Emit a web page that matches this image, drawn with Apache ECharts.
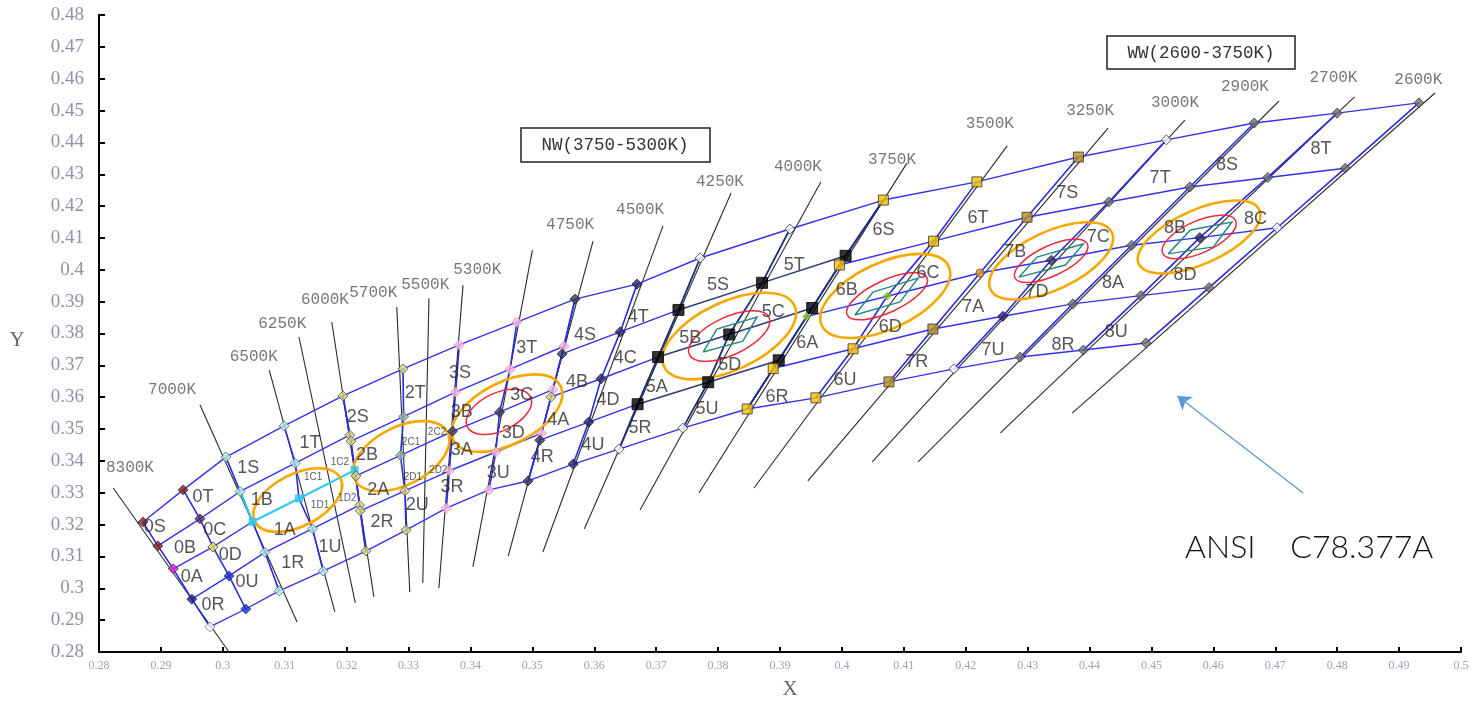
<!DOCTYPE html>
<html><head><meta charset="utf-8">
<script src="https://cdn.jsdelivr.net/npm/echarts@6/dist/echarts.min.js"></script>
<style>html,body{margin:0;padding:0;background:#fff}#c{width:1483px;height:709px}</style>
</head><body><div id="c"></div>
<script>
// ---- vertex columns (x, y chromaticity), rows: top, S/T-B/C, centre, A/D-R/U, bottom
const col0  = [[0.2871,0.3208],[0.2895,0.3133],[0.2920,0.3061],[0.2950,0.2966],[0.2979,0.2879]];
const col0m = [[0.2936,0.3309],[0.2963,0.3218],[0.2984,0.3130],[0.3010,0.3039],[0.3037,0.2935]];
const col1  = [[0.3005,0.3412],[0.3028,0.3304],[0.3048,0.3209],[0.3068,0.3113],[0.3091,0.2992]];
const col1m = [[0.3099,0.3510],[0.3117,0.3393],[0.3123,0.3282],[0.3145,0.3187],[0.3162,0.3054]];
const col2a = [[0.3194,0.3604],[0.3205,0.3481],[0.3213,0.3371],[0.3221,0.3261],[0.3231,0.3117]];
const col2b = [[0.3194,0.3604],[0.3207,0.3462],[0.3215,0.3353],[0.3222,0.3243],[0.3231,0.3117]];
const col2m = [[0.3291,0.3689],[0.3292,0.3539],[0.3287,0.3417],[0.3294,0.3306],[0.3296,0.3183]];
const col3  = [[0.3382,0.3764],[0.3376,0.3616],[0.3371,0.3493],[0.3366,0.3369],[0.3361,0.3252]];
const col3m = [[0.3475,0.3836],[0.3464,0.3688],[0.3447,0.3553],[0.3441,0.3428],[0.3430,0.3309]];
const col4a = [[0.3569,0.3908],[0.3551,0.3760],[0.3533,0.3624],[0.3515,0.3487],[0.3493,0.3337]];
const col4b = [[0.3569,0.3908],[0.3548,0.3736],[0.3530,0.3601],[0.3512,0.3465],[0.3493,0.3337]];
const col4m = [[0.3669,0.3955],[0.3642,0.3805],[0.3611,0.3658],[0.3591,0.3522],[0.3566,0.3390]];
const col5  = [[0.3771,0.4037],[0.3736,0.3874],[0.3703,0.3726],[0.3670,0.3578],[0.3640,0.3437]];
const col5m = [[0.3916,0.4128],[0.3871,0.3959],[0.3818,0.3797],[0.3784,0.3647],[0.3743,0.3503]];
const col6a = [[0.4067,0.4219],[0.4006,0.4044],[0.3952,0.3880],[0.3898,0.3716],[0.3847,0.3563]];
const col6b = [[0.4067,0.4219],[0.3996,0.4015],[0.3943,0.3853],[0.3889,0.3690],[0.3847,0.3563]];
const col6m = [[0.4218,0.4276],[0.4148,0.4090],[0.4073,0.3917],[0.4018,0.3752],[0.3958,0.3598]];
const col7  = [[0.4382,0.4354],[0.4299,0.4165],[0.4223,0.3990],[0.4147,0.3814],[0.4076,0.3648]];
const col7m = [[0.4524,0.4408],[0.4431,0.4213],[0.4338,0.4030],[0.4260,0.3854],[0.4181,0.3689]];
const col8  = [[0.4666,0.4461],[0.4562,0.4260],[0.4468,0.4077],[0.4373,0.3893],[0.4288,0.3726]];
const col8m = [[0.4800,0.4492],[0.4688,0.4290],[0.4578,0.4101],[0.4483,0.3919],[0.4390,0.3748]];
const col9  = [[0.4932,0.4524],[0.4813,0.4319],[0.4703,0.4132],[0.4593,0.3944],[0.4491,0.3770]];

// ---- isotherm lines (start, end)
const isothermLines = [
 [[0.2823,0.3315],[0.3010,0.2800]], [[0.2963,0.3576],[0.3120,0.2894]],
 [[0.3075,0.3685],[0.3181,0.2926]], [[0.3123,0.3789],[0.3214,0.2954]],
 [[0.3176,0.3836],[0.3244,0.2973]], [[0.3281,0.3883],[0.3302,0.2988]],
 [[0.3333,0.3911],[0.3323,0.3017]], [[0.3388,0.3952],[0.3349,0.3001]],
 [[0.3500,0.4062],[0.3404,0.3067]], [[0.3598,0.4090],[0.3461,0.3101]],
 [[0.3711,0.4138],[0.3517,0.3114]], [[0.3821,0.4241],[0.3584,0.3186]],
 [[0.3966,0.4276],[0.3674,0.3246]], [[0.4105,0.4335],[0.3769,0.3299]],
 [[0.4267,0.4389],[0.3858,0.3315]], [[0.4430,0.4445],[0.3945,0.3337]],
 [[0.4554,0.4470],[0.4049,0.3397]], [[0.4706,0.4530],[0.4123,0.3397]],
 [[0.4828,0.4543],[0.4256,0.3488]], [[0.4958,0.4555],[0.4372,0.3550]]
];
const cctLabels = [
 ['8300K',0.2850,0.3378],['7000K',0.2918,0.3623],['6500K',0.3050,0.3726],['6250K',0.3096,0.3830],
 ['6000K',0.3165,0.3905],['5700K',0.3243,0.3927],['5500K',0.3327,0.3952],['5300K',0.3411,0.3999],
 ['4750K',0.3561,0.4141],['4500K',0.3674,0.4188],['4250K',0.3803,0.4276],['4000K',0.3929,0.4323],
 ['3750K',0.4081,0.4345],['3500K',0.4239,0.4458],['3250K',0.4401,0.4499],['3000K',0.4538,0.4524],
 ['2900K',0.4651,0.4574],['2700K',0.4794,0.4602],['2600K',0.4931,0.4596]
];
const binLabels = [
 ['0S',0.2890,0.3193],['0T',0.2968,0.3287],['0C',0.2987,0.3183],['0B',0.2939,0.3127],['0D',0.3012,0.3105],['0A',0.2950,0.3036],['0U',0.3039,0.3020],['0R',0.2984,0.2948],
 ['1S',0.3041,0.3378],['1B',0.3063,0.3277],['1A',0.3100,0.3183],['1R',0.3113,0.3079],['1T',0.3141,0.3456],['1U',0.3173,0.3130],
 ['2S',0.3218,0.3538],['2B',0.3233,0.3419],['2A',0.3251,0.3309],['2R',0.3257,0.3208],['2T',0.3311,0.3613],['2U',0.3314,0.3262],
 ['3S',0.3383,0.3676],['3B',0.3386,0.3554],['3A',0.3386,0.3434],['3R',0.3370,0.3318],['3T',0.3491,0.3755],['3C',0.3483,0.3607],['3D',0.3469,0.3488],['3U',0.3445,0.3362],
 ['4S',0.3585,0.3795],['4B',0.3572,0.3648],['4A',0.3542,0.3528],['4R',0.3516,0.3412],['4T',0.3671,0.3852],['4C',0.3650,0.3723],['4D',0.3622,0.3591],['4U',0.3598,0.3450],
 ['5S',0.3800,0.3952],['5B',0.3755,0.3786],['5A',0.3701,0.3632],['5R',0.3674,0.3503],['5T',0.3923,0.4015],['5C',0.3889,0.3868],['5D',0.3819,0.3701],['5U',0.3782,0.3563],
 ['6S',0.4067,0.4125],['6B',0.4008,0.3937],['6A',0.3944,0.3770],['6R',0.3895,0.3601],['6T',0.4220,0.4163],['6C',0.4139,0.3990],['6D',0.4078,0.3820],['6U',0.4005,0.3654],
 ['7S',0.4364,0.4241],['7B',0.4280,0.4056],['7A',0.4212,0.3883],['7R',0.4121,0.3711],['7T',0.4514,0.4288],['7C',0.4414,0.4103],['7D',0.4315,0.3930],['7U',0.4244,0.3748],
 ['8S',0.4622,0.4329],['8B',0.4538,0.4131],['8A',0.4438,0.3959],['8R',0.4357,0.3764],['8T',0.4774,0.4379],['8C',0.4668,0.4160],['8D',0.4554,0.3984],['8U',0.4443,0.3805]
];
const subLabels = [
 ['1C1',0.3146,0.3350],['1D1',0.3157,0.3262],['1C2',0.3189,0.3397],['1D2',0.3201,0.3284],
 ['2C1',0.3304,0.3459],['2D1',0.3307,0.3350],['2C2',0.3346,0.3491],['2D2',0.3348,0.3371]
];
const orangeCenters = [[0.3121,0.3277],[0.3288,0.3415],[0.3459,0.3550],[0.3818,0.3792],[0.4070,0.3918],[0.4338,0.4028],[0.4577,0.4103]];
const redCenters = [[0.3446,0.3554],[0.3818,0.3792],[0.4073,0.3917],[0.4338,0.4028],[0.4577,0.4103]];
const quad5 = [[0.3776,0.3742],[0.3798,0.3814],[0.3863,0.3852],[0.3840,0.3776]];
const quad6 = [[0.4021,0.3858],[0.4050,0.3930],[0.4123,0.3974],[0.4094,0.3899]];
const quad7 = [[0.4286,0.3977],[0.4315,0.4040],[0.4390,0.4081],[0.4361,0.4015]];
const quad8 = [[0.4527,0.4050],[0.4563,0.4125],[0.4630,0.4150],[0.4600,0.4072]];
const arrowLine = [[0.4745,0.3299],[0.4542,0.3604]];

// ---- styles (kept apart from data)
const orangeSize = [[48,26,27],[52,29,27],[60,31,27],[72,34,25],[70,33,25],[67,29,25],[66,27,24]];
const redSize = [[35,19,25],[44,19,25],[44,16,25],[40,15,25],[40,16,24]];
const mk = {
 dred:{c:'#8b1a1a'}, mag:{c:'#e020d0'}, navy:{c:'#1a1a90'}, white:{c:'#ffffff',b:'#777'},
 purple:{c:'#5a2a6a'}, yel:{c:'#e8e050'}, blue:{c:'#1530e0'}, cyanlt:{c:'#b0ece4',b:'#667'},
 cyansq:{s:'rect',z:7,c:'#30c8f0',b:'#30c8f0'}, khaki:{c:'#d4d47a',b:'#555'}, greenstar:{c:'#98b8a0',b:'#667'},
 pink:{c:'#f7bfdc',b:'#e58cbc'}, dark:{c:'#3a3a60',b:'#222'}, hollow:{c:'#ffffff',b:'#333'},
 navyd:{c:'#2a2a70',b:'#111'}, blacksq:{s:'rect',z:11,c:'#000',b:'#000'}, yelsq:{s:'rect',z:10,c:'#f5c000',b:'#333'},
 greend:{z:8,c:'#8ac020',b:'#8ac020'}, olivesq:{s:'rect',z:10,c:'#b89020',b:'#333'}, orangec:{s:'circle',z:8,c:'#f09020',b:'#555'},
 gray:{c:'#707070',b:'#333'}, bluehollow:{c:'#ffffff',b:'#1020c0'}
};
const columns = {col0,col0m,col1,col1m,col2a,col2b,col2m,col3,col3m,col4a,col4b,col4m,col5,col5m,col6a,col6b,col6m,col7,col7m,col8,col8m,col9};
const colMarkers = {
 col0:['dred','dred','mag','navy','white'], col0m:['dred','purple','yel','blue','blue'],
 col1:['cyanlt','cyanlt','cyansq','cyanlt','cyanlt'], col1m:['cyanlt','cyanlt','cyansq','cyanlt','cyanlt'],
 col2a:['khaki','khaki','cyansq','khaki','khaki'], col2b:[null,'khaki','khaki','khaki',null],
 col2m:['khaki','greenstar','greenstar','khaki','khaki'],
 col3:['pink','pink','dark','pink','pink'], col3m:['pink','pink','dark','pink','pink'],
 col4a:[null,'pink','pink','pink',null], col4b:['dark','dark','khaki','dark','dark'],
 col4m:['navyd','navyd','navyd','navyd','navyd'],
 col5:['hollow','blacksq','blacksq','blacksq','hollow'], col5m:['hollow','blacksq','blacksq','blacksq','hollow'],
 col6a:['yelsq','blacksq','blacksq','blacksq','yelsq'], col6b:[null,'yelsq','greend','yelsq',null],
 col6m:['yelsq','yelsq','greend','yelsq','yelsq'],
 col7:['olivesq','olivesq','orangec','olivesq','olivesq'], col7m:['hollow','gray','dark','navyd','hollow'],
 col8:['gray','gray','gray','gray','gray'], col8m:['gray','gray','navyd','gray','gray'],
 col9:['gray','gray','bluehollow','gray','gray']
};
const binCols = [['col0','col0m','col1'],['col1','col1m','col2a'],['col2b','col2m','col3'],['col3','col3m','col4a'],
 ['col4b','col4m','col5'],['col5','col5m','col6a'],['col6b','col6m','col7'],['col7','col7m','col8'],['col8','col8m','col9']];

const chart = echarts.init(document.getElementById('c'));
const base = {coordinateSystem:'cartesian2d', silent:true, animation:false};
const series = [];
series.push(Object.assign({type:'lines', polyline:false, z:1,
  data: isothermLines.map(l=>({coords:l})), lineStyle:{color:'#2b2b2b', width:1.1, opacity:1}}, base));
const navyCols = ['col5','col5m','col6a'];
series.push(Object.assign({type:'lines', polyline:true, z:2,
  data: Object.keys(columns).filter(k=>!navyCols.includes(k)).map(k=>({coords:columns[k]})),
  lineStyle:{color:'#2a2ae6', width:1.6, opacity:1}}, base));
series.push(Object.assign({type:'lines', polyline:true, z:2,
  data: navyCols.map(k=>({coords:columns[k]})), lineStyle:{color:'#1e2d7a', width:1.8, opacity:1}}, base));
const rowData = [], navyRows = [];
binCols.forEach((b,bi)=>{ for(let r=0;r<5;r++){ const coords=b.map(k=>columns[k][r]);
  if(bi===5 && r>=1 && r<=3) navyRows.push({coords}); else if(!(bi===1 && r===2)) rowData.push({coords}); }});
series.push(Object.assign({type:'lines', polyline:true, z:2, data: rowData, lineStyle:{color:'#3232f0', width:1.4, opacity:1}}, base));
series.push(Object.assign({type:'lines', polyline:true, z:2, data: navyRows, lineStyle:{color:'#2b3b78', width:1.5, opacity:1}}, base));
series.push(Object.assign({type:'lines', polyline:true, z:3,
  data:[{coords: binCols[1].map(k=>columns[k][2])},{coords:[col1[1],col1[2]]}], lineStyle:{color:'#2ec8f2', width:2, opacity:1}}, base));
// quads
series.push(Object.assign({type:'lines', polyline:true, z:4,
  data:[quad5,quad6,quad7,quad8].map(q=>({coords:q.concat([q[0]])})), lineStyle:{color:'#2a8a80', width:1.5, opacity:1}}, base));
// ellipses
function ellSeries(centers, sizes, color, w){
  return Object.assign({type:'custom', z:4, data: centers.map((c,i)=>[c[0],c[1],i]),
    renderItem:(p,api)=>{ const pt=api.coord([api.value(0),api.value(1)]); const s=sizes[api.value(2)];
      return {type:'ellipse', x:pt[0], y:pt[1], rotation:s[2]*Math.PI/180,
        shape:{cx:0,cy:0,rx:s[0],ry:s[1]}, style:{fill:'none', stroke:color, lineWidth:w}}; }}, base);
}
series.push(ellSeries(orangeCenters, orangeSize, '#f5a800', 2.6));
series.push(ellSeries(redCenters, redSize, '#ee2a3a', 1.5));
// markers
const markerData = [];
Object.keys(colMarkers).forEach(k=>colMarkers[k].forEach((m,r)=>{ if(!m) return; const s=mk[m];
  markerData.push({value:columns[k][r], symbol:s.s||'diamond', symbolSize:s.z||10,
    itemStyle:{color:s.c, borderColor:s.b||'#333', borderWidth:1}}); }));
series.push(Object.assign({type:'scatter', z:5, data:markerData}, base));
// arrow
series.push(Object.assign({type:'lines', z:5, symbol:['none','arrow'], symbolSize:13,
  data:[{coords:arrowLine}], lineStyle:{color:'#5b9bd5', width:1.3, opacity:1}}, base));
// labels
function labelSeries(arr, font, size, color){
  return Object.assign({type:'scatter', z:6, symbolSize:1, itemStyle:{color:'rgba(0,0,0,0)'},
    data: arr.map(l=>({name:l[0], value:[l[1],l[2]]})),
    label:{show:true, position:'inside', formatter:'{b}', fontFamily:font, fontSize:size, color:color}}, base);
}
series.push(labelSeries(binLabels, 'Liberation Sans', 18, '#2a2a2a'));
series.push(labelSeries(subLabels, 'Liberation Sans', 10, '#333'));
series.push(labelSeries(cctLabels, 'Liberation Mono', 16, '#555'));

const fmt = v => String(Math.round(v*100)/100);
chart.setOption({
  animation:false,
  grid:{left:99, right:22, top:15, bottom:57, containLabel:false, outerBoundsMode:'none'},
  xAxis:{type:'value', min:0.28, max:0.5, interval:0.01,
    axisLine:{show:true, onZero:false, lineStyle:{color:'#000', width:2}},
    axisTick:{show:true, inside:true, length:5, lineStyle:{color:'#000', width:2}},
    axisLabel:{margin:8, fontFamily:'Liberation Serif', fontSize:12, color:'#9aa2b4', formatter:fmt},
    splitLine:{show:false}},
  yAxis:{type:'value', min:0.28, max:0.48, interval:0.01,
    axisLine:{show:true, onZero:false, lineStyle:{color:'#000', width:2}},
    axisTick:{show:true, inside:true, length:6, lineStyle:{color:'#000', width:2}},
    axisLabel:{margin:15, fontFamily:'Liberation Serif', fontSize:19, color:'#8a92a4', formatter:fmt},
    splitLine:{show:false}},
  graphic:[
    {type:'rect', x:521, y:128, shape:{x:0, y:0, width:189, height:34}, style:{fill:'#fff', stroke:'#222', lineWidth:1.5}, z:10},
    {type:'text', x:615, y:145, style:{text:'NW(3750-5300K)', align:'center', verticalAlign:'middle', font:'17.5px "Liberation Mono"', fill:'#333'}, z:11},
    {type:'rect', x:1107, y:36, shape:{x:0, y:0, width:188, height:33}, style:{fill:'#fff', stroke:'#222', lineWidth:1.5}, z:10},
    {type:'text', x:1201, y:53, style:{text:'WW(2600-3750K)', align:'center', verticalAlign:'middle', font:'17.5px "Liberation Mono"', fill:'#333'}, z:11},
    {type:'text', x:1185, y:548, style:{text:'ANSI    C78.377A', verticalAlign:'middle', font:'300 32px Lato', fill:'#111'}, z:11},
    {type:'text', x:790, y:689, style:{text:'X', align:'center', verticalAlign:'middle', font:'21px "Liberation Serif"', fill:'#666'}, z:11},
    {type:'text', x:17, y:340, style:{text:'Y', align:'center', verticalAlign:'middle', font:'21px "Liberation Serif"', fill:'#666'}, z:11}
  ],
  series: series
});
</script></body></html>
